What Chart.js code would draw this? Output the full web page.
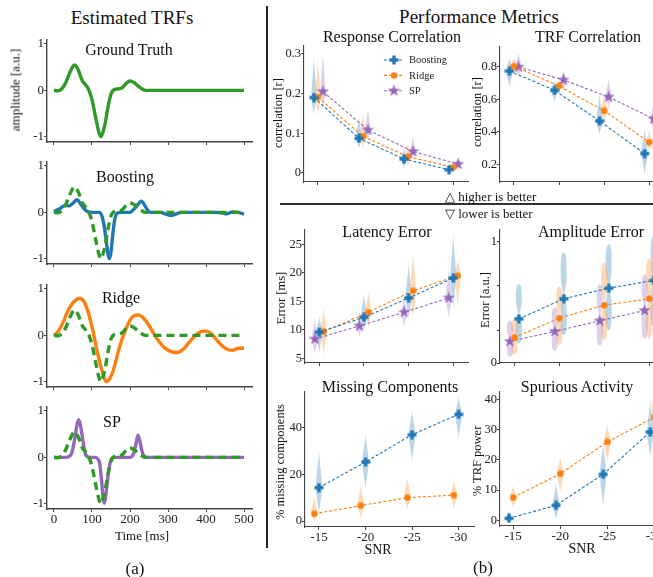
<!DOCTYPE html>
<html>
<head>
<meta charset="utf-8">
<script src="https://cdn.jsdelivr.net/npm/chart.js@4.4.0/dist/chart.umd.min.js"></script>
<style>
  html, body { margin: 0; padding: 0; background: #fff; }
  body { width: 653px; height: 577px; position: relative; overflow: hidden;
         font-family: "Liberation Serif", "Times New Roman", serif; color: #111; }
  canvas { position: absolute; }
  .t { position: absolute; white-space: nowrap; line-height: 1; transform: translate(-50%, -50%); z-index: 2; }
  .rot { transform: translate(-50%, -50%) rotate(-90deg); }
  .l { transform: translate(0, -50%); }
  .rule { position: absolute; background: #222; }
</style>
</head>
<body>
<div class="t" style="left:132px;top:17px;font-size:19px">Estimated TRFs</div>
<div class="t" style="left:479px;top:16px;font-size:19px">Performance Metrics</div>

<div class="t rot" style="left:15px;top:90px;font-size:13px">amplitude [a.u.]</div>
<div class="t" style="left:129px;top:50px;font-size:16px">Ground Truth</div>
<div class="t" style="left:125px;top:177px;font-size:16px">Boosting</div>
<div class="t" style="left:121px;top:298px;font-size:16px">Ridge</div>
<div class="t" style="left:112px;top:422px;font-size:16px">SP</div>
<div class="t" style="left:142px;top:535px;font-size:13px">Time [ms]</div>
<div class="t" style="left:135px;top:568px;font-size:17px">(a)</div>
<div class="t" style="left:483px;top:567px;font-size:17px">(b)</div>

<div class="t" style="left:392px;top:37px;font-size:16px">Response Correlation</div>
<div class="t" style="left:588px;top:37px;font-size:16px">TRF Correlation</div>
<div class="t" style="left:387px;top:232px;font-size:16px">Latency Error</div>
<div class="t" style="left:591px;top:232px;font-size:16px">Amplitude Error</div>
<div class="t" style="left:390px;top:387px;font-size:16px">Missing Components</div>
<div class="t" style="left:577px;top:387px;font-size:16px">Spurious Activity</div>

<div class="t rot" style="left:278px;top:113px;font-size:12.5px">correlation [r]</div>
<div class="t rot" style="left:477px;top:112px;font-size:12.5px">correlation [r]</div>
<div class="t rot" style="left:281px;top:298px;font-size:12.5px">Error [ms]</div>
<div class="t rot" style="left:485px;top:300px;font-size:12.5px">Error [a.u.]</div>
<div class="t rot" style="left:280px;top:462px;font-size:12.5px">% missing components</div>
<div class="t rot" style="left:477px;top:461px;font-size:12.5px">% TRF power</div>
<div class="t" style="left:378px;top:550px;font-size:14px">SNR</div>
<div class="t" style="left:582px;top:549px;font-size:14px">SNR</div>

<div class="t l" style="left:445px;top:196px;font-size:13px">&#9651; higher is better</div>
<div class="t l" style="left:445px;top:213px;font-size:13px">&#9661; lower is better</div>
<div class="rule" style="left:266px;top:6px;width:2px;height:542px"></div>
<div class="rule" style="left:280px;top:203px;width:373px;height:2px;background:#333"></div>

<canvas id="trf0"></canvas>
<canvas id="trf1"></canvas>
<canvas id="trf2"></canvas>
<canvas id="trf3"></canvas>
<canvas id="resp"></canvas>
<canvas id="trfcorr"></canvas>
<canvas id="lat"></canvas>
<canvas id="amp"></canvas>
<canvas id="miss"></canvas>
<canvas id="spur"></canvas>

<script>
// ---- data: estimated TRFs (time in ms, amplitude in a.u.) ----
const TIME_TICKS = [0, 100, 200, 300, 400, 500];
const AMP_TICKS = [-1, 0, 1];

const gtTime = [0, 10, 20, 30, 40, 50, 55, 60, 65, 70, 75, 80, 85, 90, 100, 110, 118, 123, 128, 135, 140, 150, 160, 170, 180, 190, 200, 210, 220, 230, 240, 260, 500];
const gtAmp  = [0, -0.01, 0.03, 0.15, 0.35, 0.52, 0.55, 0.5, 0.42, 0.3, 0.2, 0.15, 0.1, 0.04, -0.2, -0.6, -0.9, -1.0, -0.92, -0.7, -0.45, -0.08, 0.02, 0.03, 0.06, 0.15, 0.2, 0.17, 0.1, 0.04, 0, 0, 0];

const boostTime = [0, 8, 16, 24, 32, 40, 50, 61, 70, 80, 90, 100, 120, 126, 131, 137, 142, 146, 150, 155, 160, 166, 175, 200, 208, 218, 230, 238, 246, 253, 280, 295, 308, 320, 335, 380, 420, 440, 455, 470, 485, 500];
const boostAmp  = [0.01, 0.05, 0.08, 0.13, 0.15, 0.14, 0.2, 0.27, 0.18, 0.07, 0.01, 0, 0, -0.08, -0.25, -0.58, -0.9, -1.0, -0.85, -0.45, -0.15, -0.02, 0, 0, 0.05, 0.14, 0.24, 0.16, 0.05, 0, 0, -0.04, -0.07, -0.04, 0, 0, 0, -0.01, -0.03, 0.01, 0, -0.04];

const ridgeTime = [0, 12, 24, 35, 46, 57, 68, 78, 88, 98, 105, 111, 118, 125, 132, 139, 147, 155, 162, 168, 175, 182, 190, 200, 210, 221, 232, 243, 256, 269, 283, 296, 311, 326, 340, 355, 368, 380, 392, 401, 410, 420, 430, 440, 451, 462, 470, 480, 490, 500];
const ridgeAmp  = [-0.01, 0.1, 0.28, 0.5, 0.66, 0.76, 0.8, 0.74, 0.55, 0.25, 0.0, -0.25, -0.5, -0.73, -0.92, -1.0, -0.93, -0.78, -0.58, -0.38, -0.18, -0.02, 0.15, 0.33, 0.42, 0.44, 0.4, 0.3, 0.13, -0.05, -0.2, -0.3, -0.36, -0.37, -0.3, -0.16, -0.04, 0.05, 0.09, 0.09, 0.06, -0.02, -0.12, -0.21, -0.28, -0.32, -0.32, -0.29, -0.28, -0.28];

const spTime = [0, 30, 40, 47, 54, 60, 65, 70, 75, 81, 88, 95, 108, 115, 120, 125, 129, 132, 135, 139, 143, 147, 152, 158, 200, 206, 211, 216, 221, 226, 231, 236, 242, 500];
const spAmp  = [0, 0, 0.02, 0.1, 0.37, 0.68, 0.81, 0.68, 0.42, 0.12, 0.01, 0, 0, -0.03, -0.12, -0.49, -0.85, -0.99, -0.9, -0.63, -0.35, -0.14, -0.03, 0, 0, 0.03, 0.12, 0.3, 0.48, 0.35, 0.15, 0.04, 0, 0];

// ---- data: performance metrics per SNR ----
const SNR = ['-15', '-20', '-25', '-30'];

const respBoosting = [0.19, 0.087, 0.035, 0.008];
const respRidge    = [0.191, 0.092, 0.041, 0.014];
const respSP       = [0.205, 0.108, 0.054, 0.022];
const respBoostingRange = [[0.146, 0.297], [0.06, 0.146], [0.01, 0.064], [-0.003, 0.024]];
const respRidgeRange    = [[0.146, 0.287], [0.063, 0.151], [0.016, 0.079], [0.0, 0.033]];
const respSPRange       = [[0.164, 0.306], [0.083, 0.164], [0.033, 0.093], [0.008, 0.041]];

const trfBoosting = [0.775, 0.656, 0.467, 0.266];
const trfRidge    = [0.805, 0.683, 0.53, 0.337];
const trfSP       = [0.8, 0.72, 0.615, 0.48];
const trfBoostingRange = [[0.67, 0.86], [0.58, 0.72], [0.38, 0.64], [0.13, 0.42]];
const trfRidgeRange    = [[0.75, 0.86], [0.64, 0.72], [0.46, 0.63], [0.28, 0.41]];
const trfSPRange       = [[0.74, 0.89], [0.65, 0.78], [0.54, 0.73], [0.4, 0.6]];

const latBoosting = [9.6, 12.2, 15.6, 19.1];
const latRidge    = [9.7, 13.1, 16.85, 19.5];
const latSP       = [8.4, 10.7, 13.1, 15.6];
const latBoostingRange = [[5.7, 12.4], [9.8, 16.5], [12, 21.8], [13.8, 27]];
const latRidgeRange    = [[5.3, 14], [10.3, 16.8], [11.8, 23.8], [14, 22.5]];
const latSPRange       = [[5.7, 12.3], [8.8, 13.4], [10.5, 15.5], [12, 21]];

const ampBoosting = [0.364, 0.529, 0.617, 0.68];
const ampRidge    = [0.21, 0.37, 0.477, 0.529];
const ampSP       = [0.178, 0.26, 0.348, 0.433];
const ampBoostingRange = [[0.16, 0.65], [0.23, 0.91], [0.27, 0.98], [0.3, 1.05]];
const ampRidgeRange    = [[0.07, 0.36], [0.15, 0.63], [0.19, 0.83], [0.2, 0.86]];
const ampSPRange       = [[0.05, 0.35], [0.1, 0.46], [0.14, 0.65], [0.2, 0.73]];
const AMP_ERR_TICKS = [0, 0.27, 0.64, 1];

const missBoosting = [14.3, 25.3, 37, 45.7];
const missRidge    = [3.1, 6.6, 10, 11.1];
const missBoostingRange = [[2.4, 31], [13, 37.5], [25, 48], [35, 53.5]];
const missRidgeRange    = [[0, 10.5], [1, 16], [5, 19], [5, 17.5]];

const spurBoosting = [0.66, 4.96, 15.2, 29.2];
const spurRidge    = [7.5, 15.4, 25.9, 34.1];
const spurBoostingRange = [[0, 3.2], [0, 12.5], [4, 26], [20, 40]];
const spurRidgeRange    = [[4, 11.5], [9, 21], [19, 32], [27, 46]];

// ---- styling ----
const BLUE = '#1f77b4', ORANGE = '#ff7f0e', PURPLE = '#9467bd', GREEN = '#2f9a26';
const SPINE = '#444';
const SERIF = '"Liberation Serif", "Times New Roman", serif';
Chart.defaults.font.family = SERIF;
Chart.defaults.color = '#222';
Chart.defaults.animation = false;

function rgba(hex, a) {
  const n = parseInt(hex.slice(1), 16);
  return `rgba(${n >> 16},${(n >> 8) & 255},${n & 255},${a})`;
}

function marker(kind, color) {
  const s = kind === 'star' ? 13 : kind === 'plus' ? 10 : 7;
  const c = document.createElement('canvas');
  c.width = c.height = s;
  const g = c.getContext('2d');
  g.fillStyle = color;
  const m = s / 2;
  if (kind === 'plus') {
    const a = s / 6;
    g.fillRect(m - a, 0.5, 2 * a, s - 1);
    g.fillRect(0.5, m - a, s - 1, 2 * a);
  } else if (kind === 'star') {
    g.beginPath();
    for (let i = 0; i < 10; i++) {
      const r = i % 2 ? s * 0.2 : s * 0.5;
      const ang = -Math.PI / 2 + i * Math.PI / 5;
      g.lineTo(m + r * Math.cos(ang), m + r * Math.sin(ang));
    }
    g.closePath();
    g.fill();
  } else {
    g.beginPath();
    g.arc(m, m, m - 0.3, 0, Math.PI * 2);
    g.fill();
  }
  return c;
}
const MARK = { Boosting: marker('plus', BLUE), Ridge: marker('circle', ORANGE), SP: marker('star', PURPLE) };
const COLOR = { Boosting: BLUE, Ridge: ORANGE, SP: PURPLE };

// fixes the canvas so the plot area lands on a given page box
function placeCanvas(id, box, pad) {
  const cv = document.getElementById(id);
  const w = box.r - box.l + pad.l + pad.r;
  const h = box.b - box.t + pad.t + pad.b;
  cv.width = w; cv.height = h;
  cv.style.width = w + 'px'; cv.style.height = h + 'px';
  cv.style.left = (box.l - pad.l) + 'px';
  cv.style.top = (box.t - pad.t) + 'px';
  return cv;
}

function axis(min, max, ticks, size, labelFn, fontSize, spineW) {
  return {
    type: 'linear', min, max,
    afterBuildTicks: s => { s.ticks = ticks.map(v => ({ value: v })); },
    afterFit: s => { if (s.isHorizontal()) s.height = size; else s.width = size; },
    border: { display: true, color: SPINE, width: spineW },
    grid: { display: true, drawOnChartArea: false, drawTicks: true, tickLength: 3, tickColor: SPINE, tickWidth: 1 },
    ticks: { autoSkip: false, maxRotation: 0, padding: 0, font: { size: fontSize, family: SERIF }, callback: labelFn },
  };
}

// ── left column: estimated TRFs ──
const trfPanels = [
  { id: 'trf0', est: null },
  { id: 'trf1', est: { t: boostTime, a: boostAmp, c: BLUE } },
  { id: 'trf2', est: { t: ridgeTime, a: ridgeAmp, c: ORANGE } },
  { id: 'trf3', est: { t: spTime, a: spAmp, c: PURPLE } },
];
trfPanels.forEach((p, i) => {
  const top = 40 + 122.3 * i;
  const last = i === 3;
  const pad = { l: 30, r: 14, t: 10, b: last ? 22 : 10 };
  const cv = placeCanvas(p.id, { l: 47, r: 252, t: top, b: top + 102 }, pad);
  const gt = gtTime.map((t, k) => ({ x: t, y: gtAmp[k] }));
  const datasets = [{
    data: gt, borderColor: GREEN, borderWidth: 3.4, pointRadius: 0,
    borderDash: p.est ? [8, 5] : [], cubicInterpolationMode: 'monotone', order: 0,
  }];
  if (p.est) {
    datasets.push({
      data: p.est.t.map((t, k) => ({ x: t, y: p.est.a[k] })),
      borderColor: p.est.c, borderWidth: 3.4, pointRadius: 0,
      cubicInterpolationMode: 'monotone', order: 1,
    });
  }
  new Chart(cv, {
    type: 'line',
    data: { datasets },
    options: {
      responsive: false, devicePixelRatio: 1, events: [],
      layout: { padding: { top: pad.t, right: pad.r, left: 0, bottom: 0 } },
      plugins: { legend: { display: false }, tooltip: { enabled: false } },
      scales: {
        x: axis(-18.4, 521, TIME_TICKS, pad.b, v => last ? String(v) : '', 13, 1.4),
        y: axis(-1.115, 1.086, AMP_TICKS, pad.l, v => String(v), 13, 1.4),
      },
    },
  });
});

// ── violin shapes drawn through the chart scales ──
const violinPlugin = {
  id: 'violins',
  beforeDatasetsDraw(chart, args, opts) {
    const { ctx, scales: { x, y } } = chart;
    ctx.save();
    opts.items.forEach(it => {
      ctx.fillStyle = rgba(it.color, 0.3);
      it.ranges.forEach((r, i) => {
        const px = x.getPixelForValue(i + it.dodge);
        const yHi = y.getPixelForValue(r[1]);
        const yLo = y.getPixelForValue(r[0]);
        const yMid = y.getPixelForValue(it.mid[i]);
        const hw = opts.width / 2;
        ctx.beginPath();
        if (opts.shape === 'hourglass') {
          const h = yLo - yHi;
          ctx.moveTo(px, yHi);
          ctx.bezierCurveTo(px + hw, yHi, px + hw, yHi + h * 0.15, px + hw, yHi + h * 0.25);
          ctx.bezierCurveTo(px + hw, yHi + h * 0.4, px + hw * 0.25, yHi + h * 0.45, px + hw * 0.25, yHi + h * 0.5);
          ctx.bezierCurveTo(px + hw * 0.25, yHi + h * 0.55, px + hw, yHi + h * 0.6, px + hw, yHi + h * 0.75);
          ctx.bezierCurveTo(px + hw, yLo - h * 0.15, px + hw, yLo, px, yLo);
          ctx.bezierCurveTo(px - hw, yLo, px - hw, yLo - h * 0.15, px - hw, yHi + h * 0.75);
          ctx.bezierCurveTo(px - hw, yHi + h * 0.6, px - hw * 0.25, yHi + h * 0.55, px - hw * 0.25, yHi + h * 0.5);
          ctx.bezierCurveTo(px - hw * 0.25, yHi + h * 0.45, px - hw, yHi + h * 0.4, px - hw, yHi + h * 0.25);
          ctx.bezierCurveTo(px - hw, yHi + h * 0.15, px - hw, yHi, px, yHi);
        } else {
          ctx.moveTo(px, yHi);
          ctx.bezierCurveTo(px + hw * 0.15, yHi + (yMid - yHi) * 0.4, px + hw, yMid - (yMid - yHi) * 0.35, px + hw, yMid);
          ctx.bezierCurveTo(px + hw, yMid + (yLo - yMid) * 0.35, px + hw * 0.15, yLo - (yLo - yMid) * 0.4, px, yLo);
          ctx.bezierCurveTo(px - hw * 0.15, yLo - (yLo - yMid) * 0.4, px - hw, yMid + (yLo - yMid) * 0.35, px - hw, yMid);
          ctx.bezierCurveTo(px - hw, yMid - (yMid - yHi) * 0.35, px - hw * 0.15, yHi + (yMid - yHi) * 0.4, px, yHi);
        }
        ctx.closePath();
        ctx.fill();
      });
    });
    ctx.restore();
  },
};

// legend inside the Response Correlation panel
const legendPlugin = {
  id: 'metricLegend',
  afterDraw(chart, args, opts) {
    if (!opts.show) return;
    const { ctx, chartArea } = chart;
    ctx.save();
    ['Boosting', 'Ridge', 'SP'].forEach((name, k) => {
      const yy = chartArea.top + 14 + k * 15.4;
      const x0 = chartArea.left + 80;
      ctx.strokeStyle = COLOR[name];
      ctx.lineWidth = 1.1;
      ctx.setLineDash([3, 2]);
      ctx.beginPath(); ctx.moveTo(x0, yy); ctx.lineTo(x0 + 20, yy); ctx.stroke();
      const m = MARK[name];
      ctx.drawImage(m, x0 + 10 - m.width / 2, yy - m.height / 2);
      ctx.fillStyle = '#222';
      ctx.font = '10.5px ' + SERIF;
      ctx.textBaseline = 'middle';
      ctx.fillText(name, x0 + 25, yy + 0.5);
    });
    ctx.restore();
  },
};

function metricPanel(id, box, cfg) {
  const pad = { l: 30, r: 18, t: 10, b: cfg.labels ? 22 : 10 };
  const cv = placeCanvas(id, box, pad);
  const datasets = cfg.series.map(s => ({
    label: s.name,
    data: s.values.map((v, i) => ({ x: i + s.dodge, y: v })),
    borderColor: COLOR[s.name],
    borderWidth: 1.1,
    borderDash: [3, 2],
    pointStyle: MARK[s.name],
    pointRadius: 5,
    tension: 0,
    clip: false,
  }));
  new Chart(cv, {
    type: 'line',
    data: { datasets },
    options: {
      responsive: false, devicePixelRatio: 1, events: [],
      layout: { padding: { top: pad.t, right: pad.r, left: 0, bottom: 0 } },
      plugins: {
        legend: { display: false }, tooltip: { enabled: false },
        violins: {
          width: cfg.violinWidth || 6, shape: cfg.shape || 'spindle',
          items: cfg.series.map(s => ({ ranges: s.range, mid: s.values, color: COLOR[s.name], dodge: s.dodge })),
        },
        metricLegend: { show: !!cfg.legend },
      },
      scales: {
        x: axis(cfg.xMin, cfg.xMax, [0, 1, 2, 3], pad.b, v => cfg.labels ? SNR[v] : '', 13, 1.1),
        y: axis(cfg.yMin, cfg.yMax, cfg.yTicks, pad.l, cfg.yLabel || (v => String(v)), 12.5, 1.1),
      },
    },
    plugins: [violinPlugin, legendPlugin],
  });
}

// ── right column: performance metrics ──
metricPanel('resp', { l: 304, r: 468, t: 46, b: 182 }, {
  xMin: -0.31, xMax: 3.33, yMin: -0.023, yMax: 0.32, yTicks: [0, 0.1, 0.2, 0.3], legend: true,
  violinWidth: 5,
  series: [
    { name: 'Boosting', values: respBoosting, range: respBoostingRange, dodge: -0.09 },
    { name: 'Ridge', values: respRidge, range: respRidgeRange, dodge: 0 },
    { name: 'SP', values: respSP, range: respSPRange, dodge: 0.11 },
  ],
});
metricPanel('trfcorr', { l: 500, r: 664, t: 47, b: 182 }, {
  xMin: -0.31, xMax: 3.33, yMin: 0.091, yMax: 0.923, yTicks: [0.2, 0.4, 0.6, 0.8],
  violinWidth: 6,
  series: [
    { name: 'Boosting', values: trfBoosting, range: trfBoostingRange, dodge: -0.1 },
    { name: 'Ridge', values: trfRidge, range: trfRidgeRange, dodge: 0 },
    { name: 'SP', values: trfSP, range: trfSPRange, dodge: 0.1 },
  ],
});
metricPanel('lat', { l: 305, r: 468, t: 230, b: 363 }, {
  xMin: -0.32, xMax: 3.33, yMin: 4.2, yMax: 27.5, yTicks: [5, 10, 15, 20, 25],
  violinWidth: 5.5,
  series: [
    { name: 'Boosting', values: latBoosting, range: latBoostingRange, dodge: 0 },
    { name: 'Ridge', values: latRidge, range: latRidgeRange, dodge: 0.1 },
    { name: 'SP', values: latSP, range: latSPRange, dodge: -0.1 },
  ],
});
metricPanel('amp', { l: 500, r: 664, t: 230, b: 363 }, {
  xMin: -0.32, xMax: 3.33, yMin: 0, yMax: 1.096, yTicks: AMP_ERR_TICKS,
  yLabel: v => (v === 0 || v === 1) ? String(v) : '',
  violinWidth: 6, shape: 'hourglass',
  series: [
    { name: 'Boosting', values: ampBoosting, range: ampBoostingRange, dodge: 0.1 },
    { name: 'Ridge', values: ampRidge, range: ampRidgeRange, dodge: 0 },
    { name: 'SP', values: ampSP, range: ampSPRange, dodge: -0.1 },
  ],
});
metricPanel('miss', { l: 305, r: 474, t: 392, b: 527 }, {
  xMin: -0.3, xMax: 3.33, yMin: -2.57, yMax: 55.3, yTicks: [0, 20, 40], labels: true,
  violinWidth: 6,
  series: [
    { name: 'Boosting', values: missBoosting, range: missBoostingRange, dodge: 0 },
    { name: 'Ridge', values: missRidge, range: missRidgeRange, dodge: -0.1 },
  ],
});
metricPanel('spur', { l: 500, r: 670, t: 392, b: 526 }, {
  xMin: -0.28, xMax: 3.33, yMin: -1.88, yMax: 42.4, yTicks: [0, 10, 20, 30, 40], labels: true,
  violinWidth: 6,
  series: [
    { name: 'Boosting', values: spurBoosting, range: spurBoostingRange, dodge: -0.09 },
    { name: 'Ridge', values: spurRidge, range: spurRidgeRange, dodge: 0 },
  ],
});
</script>
</body>
</html>
